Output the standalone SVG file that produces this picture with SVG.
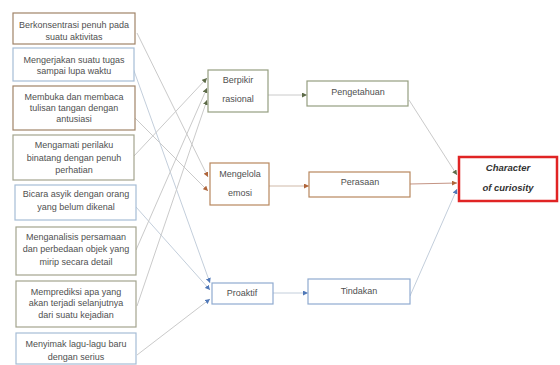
<svg xmlns="http://www.w3.org/2000/svg" width="560" height="365" viewBox="0 0 560 365">
<style>
.bx{fill:#fff;stroke-width:1.2}
.br{stroke:#a08468}
.bl{stroke:#a6bdd6}
.ol{stroke:#a3a48e}
.t{font-family:"Liberation Sans",Arial,sans-serif;font-size:9px;fill:#505050;text-anchor:middle}
.tm{font-family:"Liberation Sans",Arial,sans-serif;font-size:9px;fill:#505050;text-anchor:middle}
.tc{font-family:"Liberation Sans",Arial,sans-serif;font-size:9.5px;font-weight:bold;font-style:italic;fill:#333;text-anchor:middle}
.ln{fill:none;stroke-width:1}
.g{stroke:#cacaca}
.gb{stroke:#c3cedb}
.gr{stroke:#cfb9a8}
</style>
<defs>
<marker id="mo" viewBox="0 0 6 6" refX="6" refY="3" markerWidth="5" markerHeight="5" markerUnits="userSpaceOnUse" orient="auto"><path d="M0,0 L6,3 L0,6 z" fill="#5d6b48"/></marker>
<marker id="mb" viewBox="0 0 6 6" refX="6" refY="3" markerWidth="5" markerHeight="5" markerUnits="userSpaceOnUse" orient="auto"><path d="M0,0 L6,3 L0,6 z" fill="#b0653a"/></marker>
<marker id="mu" viewBox="0 0 6 6" refX="6" refY="3" markerWidth="5" markerHeight="5" markerUnits="userSpaceOnUse" orient="auto"><path d="M0,0 L6,3 L0,6 z" fill="#5078b8"/></marker>
</defs>
<rect width="560" height="365" fill="#fff"/>
<g id="connectors">
<line class="ln g" x1="137" y1="33" x2="208" y2="177" marker-end="url(#mb)"/>
<line class="ln gb" x1="133" y1="68" x2="210" y2="283" marker-end="url(#mu)"/>
<line class="ln g" x1="134" y1="117" x2="208" y2="191" marker-end="url(#mb)"/>
<line class="ln g" x1="134" y1="156" x2="207" y2="78" marker-end="url(#mo)"/>
<line class="ln gb" x1="136" y1="207" x2="210" y2="290" marker-end="url(#mu)"/>
<line class="ln g" x1="136" y1="250" x2="207" y2="88" marker-end="url(#mo)"/>
<line class="ln g" x1="137" y1="306" x2="207" y2="100" marker-end="url(#mo)"/>
<line class="ln g" x1="137" y1="355" x2="210" y2="299" marker-end="url(#mu)"/>
<line class="ln g" x1="268" y1="95" x2="307" y2="95" marker-end="url(#mo)"/>
<line class="ln gr" x1="269" y1="186" x2="309" y2="186" marker-end="url(#mb)"/>
<line class="ln gb" x1="273" y1="293" x2="308" y2="293" marker-end="url(#mu)"/>
<line class="ln g" x1="409" y1="100" x2="457" y2="175" marker-end="url(#mo)"/>
<line class="ln" stroke="#c49484" x1="410" y1="184" x2="457" y2="183" marker-end="url(#mb)"/>
<line class="ln gb" x1="410" y1="296" x2="457" y2="189" marker-end="url(#mu)"/>
</g>
<g id="n1"><rect class="bx br" x="13" y="13" width="122" height="31"/><text class="t" x="74" y="28">Berkonsentrasi penuh pada</text><text class="t" x="74" y="40">suatu aktivitas</text></g>
<g id="n2"><rect class="bx bl" x="13" y="48" width="121" height="33"/><text class="t" x="74" y="63">Mengerjakan suatu tugas</text><text class="t" x="74" y="74">sampai lupa waktu</text></g>
<g id="n3"><rect class="bx br" x="13" y="86" width="122" height="44"/><text class="t" x="74" y="100">Membuka dan membaca</text><text class="t" x="74" y="111">tulisan tangan dengan</text><text class="t" x="74" y="122">antusiasi</text></g>
<g id="n4"><rect class="bx ol" x="13" y="135" width="121" height="45"/><text class="t" x="74" y="148">Mengamati perilaku</text><text class="t" x="74" y="161">binatang dengan penuh</text><text class="t" x="74" y="173">perhatian</text></g>
<g id="n5"><rect class="bx bl" x="15" y="185" width="121" height="35"/><text class="t" x="76" y="197">Bicara asyik dengan orang</text><text class="t" x="76" y="210">yang belum dikenal</text></g>
<g id="n6"><rect class="bx ol" x="16" y="227" width="120" height="48"/><text class="t" x="76" y="240">Menganalisis persamaan</text><text class="t" x="76" y="252">dan perbedaan objek yang</text><text class="t" x="76" y="265">mirip secara detail</text></g>
<g id="n7"><rect class="bx ol" x="16" y="281" width="120" height="46"/><text class="t" x="76" y="295">Memprediksi apa yang</text><text class="t" x="76" y="306">akan terjadi selanjutnya</text><text class="t" x="76" y="318">dari suatu kejadian</text></g>
<g id="n8"><rect class="bx bl" x="16" y="333" width="120" height="31"/><text class="t" x="76" y="347">Menyimak lagu-lagu baru</text><text class="t" x="76" y="360">dengan serius</text></g>
<g id="m1"><rect class="bx" stroke="#959e80" x="208" y="70" width="60" height="42"/><text class="tm" x="238" y="83">Berpikir</text><text class="tm" x="238" y="102">rasional</text></g>
<g id="m2"><rect class="bx" stroke="#b8875e" x="210" y="163" width="59" height="42"/><text class="tm" x="240" y="177">Mengelola</text><text class="tm" x="240" y="196">emosi</text></g>
<g id="m3"><rect class="bx" stroke="#90abd0" x="212" y="283" width="61" height="21"/><text class="tm" x="242" y="296">Proaktif</text></g>
<g id="r1"><rect class="bx" stroke="#959e80" x="307" y="81" width="101" height="25"/><text class="tm" x="358" y="95">Pengetahuan</text></g>
<g id="r2"><rect class="bx" stroke="#b8875e" x="309" y="172" width="101" height="25"/><text class="tm" x="360" y="185">Perasaan</text></g>
<g id="r3"><rect class="bx" stroke="#90abd0" x="308" y="279" width="102" height="25"/><text class="tm" x="359" y="294">Tindakan</text></g>
<g id="c"><rect fill="#fff" stroke="#e02424" stroke-width="2.5" x="459" y="157" width="98" height="44"/><text class="tc" x="508" y="171">Character</text><text class="tc" x="508" y="191">of curiosity</text></g>
</svg>
